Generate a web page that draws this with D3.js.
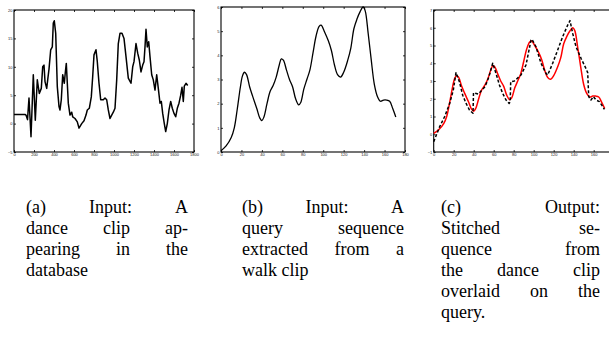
<!DOCTYPE html>
<html>
<head>
<meta charset="utf-8">
<script src="https://cdn.jsdelivr.net/npm/d3@7"></script>
<style>
  body { margin: 0; background: #fff; }
  svg { display: block; }
  .tick text { font-family: "Liberation Sans", Arial, sans-serif; font-size: 4px; fill: #222; }
  .caption { font-family: "Liberation Serif", "Times New Roman", serif; font-size: 18px; fill: #000; }
</style>
</head>
<body>
<div id="chart"></div>
<script>
// (a) dance clip from the database
const danceFrames = [0, 110, 120, 135, 150, 170, 193, 213, 233, 253, 273, 287, 300, 310, 327, 337, 350, 367, 383, 393,
  403, 417, 433, 450, 460, 473, 487, 503, 513, 523, 533, 543, 560, 577, 587, 610, 633, 650, 677, 700,
  720, 733, 753, 773, 787, 800, 820, 833, 850, 867, 893, 910, 927, 943, 960, 977, 993, 1010, 1027, 1043,
  1060, 1080, 1100, 1120, 1143, 1170, 1187, 1200, 1220, 1237, 1253, 1270, 1287, 1300, 1310, 1320, 1333, 1347, 1360, 1377,
  1393, 1410, 1427, 1443, 1460, 1473, 1487, 1503, 1517, 1533, 1550, 1567, 1583, 1600, 1617, 1633, 1650, 1667, 1680, 1693,
  1703, 1720, 1737];
const danceValues = [1.6, 1.6, 1.5, 0.7, 4.5, -2.3, 8.6, 0.6, 7.7, 5.3, 6.2, 10, 10.3, 7.4, 6.2, 7.7, 9.6, 13, 13.5, 17.7,
  18.1, 15.9, 6.5, 3, 2.4, 4.2, 8.6, 7.1, 9, 10.6, 7.1, 3.6, 1.5, 2, 1.2, 0.9, 0.3, -0.8, 0, 0.5,
  1.5, 2.4, 2.7, 4.7, 8.3, 12.1, 13, 10.9, 7.1, 4.2, 4.2, 4.5, 4.2, 2.4, 0.9, 1.5, 2, 2.7, 7.7, 14.1,
  15.9, 15.9, 15, 11.8, 8, 7.1, 10, 10.9, 14.1, 12.4, 11.2, 9.1, 10.3, 10.9, 13.5, 16.6, 13.5, 14.4, 11.8, 8.6,
  7.7, 5.9, 8.6, 6.2, 3.6, 3.9, 1.8, 0, -1.4, 0, 2.4, 3.9, 2.7, 1.8, 1.2, 2.7, 3.6, 5, 6.4, 3.9,
  6.6, 7.1, 6.7];

// (b) query from a walk clip
const queryFrames = [0, 5, 10, 13, 16, 19, 21, 23, 25, 28, 31, 35, 38, 40, 42, 45, 48, 51, 54, 57,
  59, 61, 64, 67, 70, 73, 76, 78, 81, 84, 87, 90, 93, 96, 98, 101, 105, 108, 111, 114,
  117, 120, 124, 127, 130, 133, 136, 139, 141, 144, 147, 150, 153, 156, 159, 162, 165, 168, 171];
const queryValues = [0.05, 0.25, 0.6, 1.0, 1.8, 2.7, 3.15, 3.3, 3.2, 2.7, 2.3, 1.8, 1.4, 1.3, 1.45, 2.0, 2.5, 2.75, 3.1, 3.6,
  3.85, 3.8, 3.4, 3.0, 2.7, 2.2, 1.95, 2.05, 2.6, 3.0, 3.4, 4.1, 4.8, 5.2, 5.25, 5.0, 4.6, 4.2, 3.6, 3.2,
  3.1, 3.3, 3.8, 4.3, 5.1, 5.5, 5.8, 6.0, 5.85, 4.9, 3.8, 2.8, 2.3, 2.1, 2.15, 2.15, 2.1, 1.8, 1.45];

// (c) stitched sequence
const stitchedFrames = [0, 6, 11, 16, 19.6, 22.3, 25.7, 29, 32.3, 35.7, 39.3, 39.8, 44.6, 51.3, 55, 59, 62.3, 65.7, 69, 72.3,
  75.5, 76.5, 77, 80.7, 87.3, 92.3, 97.3, 98.3, 102.3, 107.3, 112.3, 114, 119, 124, 129, 134, 136.3, 139, 142.3, 147.3,
  152.3, 154, 155, 157.3, 159.7, 162.3, 165.7, 169, 170.7];
const stitchedValues = [-0.42, 0.43, 1.0, 1.74, 2.49, 3.47, 2.96, 2.2, 1.75, 1.37, 1.18, 2.34, 2.27, 2.68, 3.2, 4.0, 3.43, 2.78, 2.3, 1.93,
  1.74, 1.83, 2.96, 3.0, 3.34, 3.9, 5.3, 5.35, 4.93, 4.0, 3.43, 3.34, 4.0, 4.75, 5.5, 6.15, 6.4, 5.68, 4.93, 4.28,
  3.7, 3.47, 2.12, 1.93, 2.12, 1.93, 1.84, 1.56, 1.4];

const danceXTicks = [0, 200, 400, 600, 800, 1000, 1200, 1400, 1600, 1800];
const danceYTicks = [-5, 0, 5, 10, 15, 20];
const frameTicks = [0, 20, 40, 60, 80, 100, 120, 140, 160, 180];
const queryYTicks = [0, 1, 2, 3, 4, 5, 6];
const stitchYTicks = [-1, 0, 1, 2, 3, 4, 5, 6, 7];

const captionLines = [
  ["(a) Input: A", "dance clip ap-", "pearing in the", "database"],
  ["(b) Input: A", "query sequence", "extracted from a", "walk clip"],
  ["(c) Output:", "Stitched se-", "quence from", "the dance clip", "overlaid on the", "query."]
];

const width = 609, height = 341;
const svg = d3.select('#chart').append('svg')
  .attr('width', width).attr('height', height);

// one framed matlab-style panel, ticks pointing inward on all four sides
function panel(box, xDomain, yDomain, xTicks, yTicks) {
  const g = svg.append('g');
  const x = d3.scaleLinear().domain(xDomain).range([box.left, box.right]);
  const y = d3.scaleLinear().domain(yDomain).range([box.bottom, box.top]);
  // labels that would fall past the page edge are left blank
  const xFmt = v => (x(v) > width - 4 ? '' : d3.format('d')(v));

  g.append('g').attr('transform', 'translate(0,' + box.bottom + ')')
    .call(d3.axisBottom(x).tickValues(xTicks).tickSizeInner(-2).tickSizeOuter(0).tickPadding(1.2).tickFormat(xFmt));
  g.append('g').attr('transform', 'translate(' + box.left + ',0)')
    .call(d3.axisLeft(y).tickValues(yTicks).tickSizeInner(-2).tickSizeOuter(0).tickPadding(1.5).tickFormat(d3.format('d')));
  g.append('g').attr('transform', 'translate(0,' + box.top + ')')
    .call(d3.axisTop(x).tickValues(xTicks).tickSizeInner(-2).tickSizeOuter(0).tickFormat(''));
  g.append('g').attr('transform', 'translate(' + box.right + ',0)')
    .call(d3.axisRight(y).tickValues(yTicks).tickSizeInner(-2).tickSizeOuter(0).tickFormat(''));
  g.selectAll('.domain').remove();
  g.selectAll('.tick line').attr('stroke', '#000').attr('stroke-width', 0.8);

  g.append('rect')
    .attr('x', box.left).attr('y', box.top)
    .attr('width', box.right - box.left).attr('height', box.bottom - box.top)
    .attr('fill', 'none').attr('stroke', '#000').attr('stroke-width', 1.1);
  return { g, x, y };
}

function drawLine(p, xs, ys, opts) {
  const line = d3.line()
    .x(i => p.x(xs[i])).y(i => p.y(ys[i]))
    .curve(opts.curve || d3.curveLinear);
  p.g.append('path')
    .attr('d', line(d3.range(xs.length)))
    .attr('fill', 'none')
    .attr('stroke', opts.color)
    .attr('stroke-width', opts.width)
    .attr('stroke-dasharray', opts.dash || null)
    .attr('stroke-linejoin', 'round');
}

const pa = panel({ left: 14, right: 194, top: 10, bottom: 152 }, [0, 1800], [-5, 20], danceXTicks, danceYTicks);
drawLine(pa, danceFrames, danceValues, { color: '#000', width: 1.5 });

const pb = panel({ left: 221, right: 405, top: 7, bottom: 152 }, [0, 180], [0, 6], frameTicks, queryYTicks);
drawLine(pb, queryFrames, queryValues, { color: '#000', width: 1.3, curve: d3.curveCatmullRom });

const pc = panel({ left: 433.7, right: 613.7, top: 10, bottom: 152 }, [0, 180], [-1, 7], frameTicks, stitchYTicks);
drawLine(pc, queryFrames, queryValues, { color: '#f00', width: 1.5, curve: d3.curveCatmullRom });
drawLine(pc, stitchedFrames, stitchedValues, { color: '#000', width: 1.5, dash: '3,2' });

// justified caption columns
const colLeft = [26, 242, 441], colWidth = [162, 162, 159];
const firstBaseline = 213, lineStep = 21;
captionLines.forEach((lines, c) => {
  lines.forEach((line, li) => {
    const words = line.split(' ');
    const by = firstBaseline + li * lineStep;
    const nodes = words.map(w => svg.append('text').attr('class', 'caption').attr('y', by).text(w));
    const widths = nodes.map(n => n.node().getComputedTextLength());
    const last = li === lines.length - 1;
    const gap = (!last && words.length > 1)
      ? (colWidth[c] - d3.sum(widths)) / (words.length - 1)
      : 4.5;
    let cx = colLeft[c];
    nodes.forEach((n, i) => { n.attr('x', cx); cx += widths[i] + gap; });
  });
});
</script>
</body>
</html>
